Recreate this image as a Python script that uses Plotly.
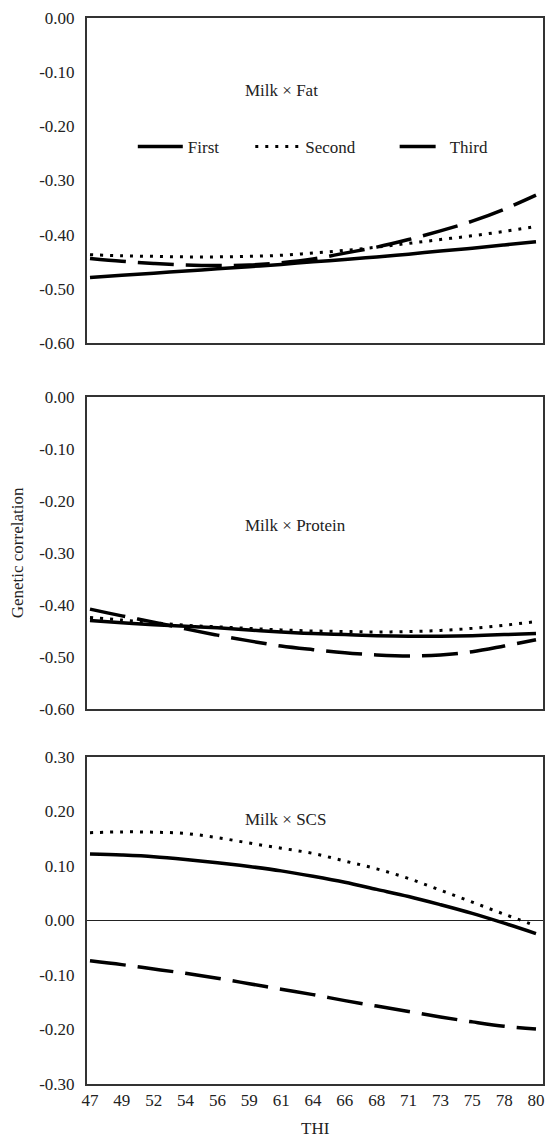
import plotly.graph_objects as go

# ---- data ----
thi_labels = ["47", "49", "52", "54", "56", "59", "61", "64", "66", "68", "71", "73", "75", "78", "80"]

fat_first = [-0.479, -0.475, -0.471, -0.467, -0.463, -0.459, -0.455, -0.450, -0.446, -0.441, -0.436, -0.430, -0.425, -0.419, -0.413]
fat_second = [-0.437, -0.439, -0.440, -0.441, -0.441, -0.440, -0.438, -0.434, -0.429, -0.423, -0.416, -0.409, -0.402, -0.394, -0.385]
fat_third = [-0.444, -0.449, -0.453, -0.456, -0.457, -0.456, -0.452, -0.445, -0.434, -0.423, -0.409, -0.393, -0.375, -0.353, -0.327]

prot_first = [-0.430, -0.434, -0.438, -0.441, -0.444, -0.448, -0.452, -0.455, -0.457, -0.459, -0.460, -0.460, -0.459, -0.457, -0.455]
prot_second = [-0.424, -0.429, -0.434, -0.439, -0.442, -0.445, -0.448, -0.450, -0.451, -0.452, -0.451, -0.449, -0.445, -0.439, -0.432]
prot_third = [-0.408, -0.421, -0.433, -0.446, -0.458, -0.469, -0.479, -0.486, -0.492, -0.496, -0.498, -0.496, -0.490, -0.479, -0.467]

scs_first = [0.122, 0.120, 0.117, 0.112, 0.106, 0.099, 0.091, 0.081, 0.070, 0.057, 0.044, 0.029, 0.013, -0.005, -0.024]
scs_second = [0.161, 0.1625, 0.162, 0.1595, 0.152, 0.142, 0.1326, 0.123, 0.109, 0.0947, 0.077, 0.0556, 0.0336, 0.0116, -0.0098]
scs_third = [-0.074, -0.081, -0.089, -0.097, -0.106, -0.116, -0.126, -0.136, -0.147, -0.157, -0.167, -0.177, -0.186, -0.194, -0.199]

series_names = ["First", "Second", "Third"]
panel_titles = ["Milk \u00d7 Fat", "Milk \u00d7 Protein", "Milk \u00d7 SCS"]

yticks_neg = [0.0, -0.1, -0.2, -0.3, -0.4, -0.5, -0.6]
yticks_scs = [0.3, 0.2, 0.1, 0.0, -0.1, -0.2, -0.3]

# ---- styling ----
FONT = "Liberation Serif"
TXT = "#222222"
styles = [
    dict(color="black", width=3.5, dash="solid"),
    dict(color="black", width=3, dash="3px,7px"),
    dict(color="black", width=3.5, dash="36px,12px"),
]

fig = go.Figure()
panels = [
    (fat_first, fat_second, fat_third),
    (prot_first, prot_second, prot_third),
    (scs_first, scs_second, scs_third),
]
legend_ids = ["legend", "legend2", "legend3"]
for p, data in enumerate(panels):
    ax = "" if p == 0 else str(p + 1)
    for s, vals in enumerate(data):
        fig.add_trace(go.Scatter(
            x=thi_labels, y=vals, mode="lines",
            name=series_names[s],
            line=dict(styles[s], shape="spline", smoothing=1),
            xaxis="x" + ax, yaxis="y" + ax,
            showlegend=(p == 0),
            legend=legend_ids[s],
            hoverinfo="skip",
        ))

frame = dict(showline=True, mirror=True, linecolor="#333333", linewidth=2,
             showgrid=False, ticks="", zeroline=False)
xrange = [-0.094, 14.22]
domains = [[0.6951, 1.0], [0.3518, 0.6445], [0.0, 0.3068]]

layout = dict(
    width=547, height=1138,
    margin=dict(l=87, r=2, t=18, b=54),
    plot_bgcolor="white", paper_bgcolor="white",
    font=dict(family=FONT, size=17, color=TXT),
)
for p in range(3):
    ax = "" if p == 0 else str(p + 1)
    xa = dict(frame, type="category", range=xrange, anchor="y" + ax,
              showticklabels=(p == 2), ticklabelstandoff=0,
              tickfont=dict(family=FONT, size=17, color=TXT))
    if p < 2:
        yt = yticks_neg
        yr = [-0.6, 0.0]
        zl = False
    else:
        yt = yticks_scs
        yr = [-0.3, 0.3]
        zl = True
    ya = dict(frame, range=yr, domain=domains[p], anchor="x" + ax,
              tickvals=yt, ticktext=["%.2f" % v for v in yt],
              ticklabelstandoff=7,
              zeroline=zl, zerolinecolor=TXT, zerolinewidth=1,
              tickfont=dict(family=FONT, size=17, color=TXT))
    layout["xaxis" + ax] = xa
    layout["yaxis" + ax] = ya

# legends inside the first panel
leg_common = dict(orientation="h", yanchor="middle", y=0.879, xanchor="left",
                  bgcolor="rgba(0,0,0,0)", font=dict(family=FONT, size=17, color=TXT),
                  itemwidth=45, tracegroupgap=0)
layout["legend"] = dict(leg_common, x=(133 - 87) / 458)
layout["legend2"] = dict(leg_common, x=(251 - 87) / 458)
layout["legend3"] = dict(leg_common, x=(396 - 87) / 458)

annotations = []
ann_y = [(1084 - 90) / 1066, (1084 - 525) / 1066, (1084 - 819) / 1066]
for p in range(3):
    annotations.append(dict(text=panel_titles[p], xref="paper", yref="paper",
                            x=(244 - 87) / 458, y=ann_y[p], xanchor="left", yanchor="middle",
                            showarrow=False, font=dict(family=FONT, size=17, color=TXT)))
annotations.append(dict(text="Genetic correlation", xref="paper", yref="paper",
                        x=(17 - 87) / 458, y=(1084 - 553) / 1066, xanchor="center", yanchor="middle",
                        textangle=-90, showarrow=False,
                        font=dict(family=FONT, size=17, color=TXT)))
annotations.append(dict(text="THI", xref="paper", yref="paper",
                        x=(317 - 87) / 458, y=(1084 - 1128) / 1066, xanchor="center", yanchor="middle",
                        showarrow=False, font=dict(family=FONT, size=17, color=TXT)))
layout["annotations"] = annotations

fig.update_layout(**layout)
fig.write_html("out.html", config={"displayModeBar": False},
               post_script="document.body.style.margin='0';document.body.style.overflow='hidden';")
